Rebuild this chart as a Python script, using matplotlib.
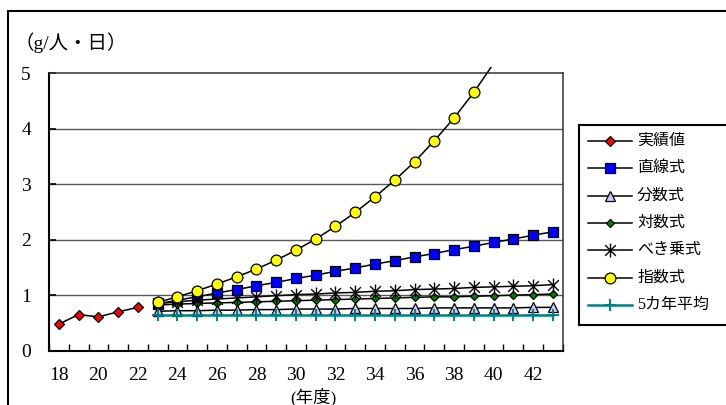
import matplotlib
matplotlib.use("Agg")
import matplotlib.pyplot as plt
from matplotlib.path import Path
from matplotlib.patches import Rectangle
from matplotlib.lines import Line2D

# ---- data -------------------------------------------------------------
years = list(range(18, 44))                    # 平成18〜43年度
tick_labels = [str(y) for y in range(18, 44, 2)]

actual_years = [18, 19, 20, 21, 22]
actual = [0.48, 0.65, 0.61, 0.70, 0.78]

proj_years = list(range(23, 44))
linear = [0.84, 0.91, 0.97, 1.04, 1.10, 1.17, 1.23, 1.30, 1.36, 1.43, 1.49,
          1.56, 1.62, 1.69, 1.75, 1.82, 1.88, 1.95, 2.01, 2.08, 2.14]
fractional = [0.71, 0.72, 0.72, 0.73, 0.73, 0.74, 0.74, 0.75, 0.75, 0.75, 0.76,
              0.76, 0.76, 0.76, 0.77, 0.77, 0.77, 0.77, 0.77, 0.78, 0.78]
logarithmic = [0.82, 0.84, 0.85, 0.86, 0.87, 0.88, 0.89, 0.90, 0.91, 0.92, 0.93,
               0.94, 0.95, 0.96, 0.97, 0.97, 0.98, 0.99, 1.00, 1.01, 1.02]
power = [0.85, 0.88, 0.91, 0.93, 0.95, 0.97, 0.99, 1.01, 1.02, 1.04, 1.05,
         1.07, 1.08, 1.10, 1.11, 1.12, 1.14, 1.15, 1.16, 1.17, 1.19]
exp_years = list(range(23, 41))
exponential = [0.87, 0.97, 1.08, 1.20, 1.33, 1.47, 1.63, 1.81, 2.01, 2.24,
               2.49, 2.77, 3.07, 3.40, 3.78, 4.19, 4.65, 5.17]
avg5 = [0.65] * 21

series_names = ["実績値", "直線式", "分数式", "対数式", "べき乗式", "指数式", "5カ年平均"]

# ---- styles -----------------------------------------------------------
FONT = ["Liberation Serif", "Noto Sans CJK JP"]
plt.rcParams["font.family"] = FONT

W, H = 726, 405
fig = plt.figure(figsize=(W / 100, H / 100), dpi=100)

def px_x(x):
    return x / W

def px_y(y):
    return 1 - y / H

L, R, T, B = 49, 562.7, 73, 350.7
ax = fig.add_axes([px_x(L), px_y(B), px_x(R) - px_x(L), px_y(T) - px_y(B)])

def idx(y):
    return y - years[0]

# asterisk marker: an X plus a vertical stroke
star_path = Path(
    [(-1, -1), (1, 1), (-1, 1), (1, -1), (0, -1.3), (0, 1.3)],
    [Path.MOVETO, Path.LINETO, Path.MOVETO, Path.LINETO, Path.MOVETO, Path.LINETO],
)

styles = {
    "実績値": dict(marker="D", mfc="#FF0000", mec="black", ms=5.2, mew=0.9, color="black"),
    "直線式": dict(marker="s", mfc="#0000FF", mec="black", ms=7, mew=0.9, color="black"),
    "分数式": dict(marker="^", mfc="#CCCCFF", mec="black", ms=7, mew=0.9, color="black"),
    "対数式": dict(marker="D", mfc="#008000", mec="black", ms=4.5, mew=0.9, color="black"),
    "べき乗式": dict(marker=star_path, mfc="none", mec="black", ms=10, mew=1.0, color="black"),
    "指数式": dict(marker="o", mfc="#FFFF00", mec="black", ms=7.8, mew=0.9, color="black"),
    "5カ年平均": dict(marker="+", mfc="none", mec="#008080", ms=9, mew=1.4, color="#008080"),
}
LW = 1.1

# gridlines
for g in [1, 2, 3, 4]:
    ax.axhline(g, color="#5a5a5a", lw=1.0, zorder=1)

xa = [idx(y) for y in actual_years]
xp = [idx(y) for y in proj_years]
xe = [idx(y) for y in exp_years]

ax.plot(xa, actual, lw=LW, zorder=3, **styles["実績値"])
ax.plot(xp, linear, lw=LW, zorder=3, **styles["直線式"])
ax.plot(xp, fractional, lw=LW, zorder=3, **styles["分数式"])
ax.plot(xp, logarithmic, lw=LW, zorder=3, **styles["対数式"])
ax.plot(xp, power, lw=LW, zorder=3, **styles["べき乗式"])

# exponential: line runs slightly past the top of the plot, markers stay inside
exp_line, = ax.plot(xe, exponential, color="black", lw=LW, zorder=3)
clip = Rectangle((0, 0), 1, 1 + 6.3 / (B - T), transform=ax.transAxes)
exp_line.set_clip_path(clip)
st = dict(styles["指数式"])
st.pop("color")
ax.plot(xe, exponential, ls="none", zorder=4, **st)

ax.plot(xp, avg5, lw=1.8, zorder=5, **styles["5カ年平均"])

# axes
ax.set_xlim(-0.5, len(years) - 0.5)
ax.set_ylim(0, 5)
ax.set_xticks([idx(int(t)) for t in tick_labels])
ax.set_xticklabels(tick_labels)
ax.set_xticks([i - 0.5 for i in range(len(years) + 1)], minor=True)
ax.tick_params(axis="x", which="major", length=0, pad=12, labelsize=14)
ax.tick_params(axis="x", which="minor", direction="in", length=5, width=1.0)
ax.set_yticks([0, 1, 2, 3, 4, 5])
ax.tick_params(axis="y", direction="in", length=5, width=1.2, pad=13, labelsize=14)
for s in ["left", "bottom"]:
    ax.spines[s].set_linewidth(1.5)
for s in ["top", "right"]:
    ax.spines[s].set_linewidth(1.1)
    ax.spines[s].set_color("#333333")

fig.text(px_x(15), px_y(43), "（g/人・日）", fontsize=14, va="center", ha="left")
fig.text(px_x(313), px_y(397), "(年度)", fontsize=12.5, va="center", ha="center")

# outer frame (top and left edges inside the canvas)
fig.add_artist(Rectangle((px_x(8), -0.2), 1.2, px_y(11) + 0.2,
                         transform=fig.transFigure, fill=False, lw=1.5,
                         edgecolor="black"))

# legend box
lx0, ly0, ly1 = 579, 125, 325
lax = fig.add_axes([px_x(lx0), px_y(ly1), px_x(W + 40) - px_x(lx0), px_y(ly0) - px_y(ly1)])
lax.set_xlim(0, W + 40 - lx0)
lax.set_ylim(ly1 - ly0, 0)
lax.set_xticks([])
lax.set_yticks([])
for s in ["left", "top", "bottom"]:
    lax.spines[s].set_linewidth(1.5)
lax.spines["right"].set_visible(False)

row0, step = 15.7, 27.4
for i, name in enumerate(series_names):
    y = row0 + i * step
    st = dict(styles[name])
    c = st.pop("color")
    lax.add_line(Line2D([8.7, 52.7], [y, y], color=c,
                        lw=1.8 if name == "5カ年平均" else LW))
    lax.add_line(Line2D([30.7], [y], ls="none", **st))
    lax.text(58, y, name, fontsize=11.5, va="center", ha="left")

fig.savefig("out.png", dpi=100)
